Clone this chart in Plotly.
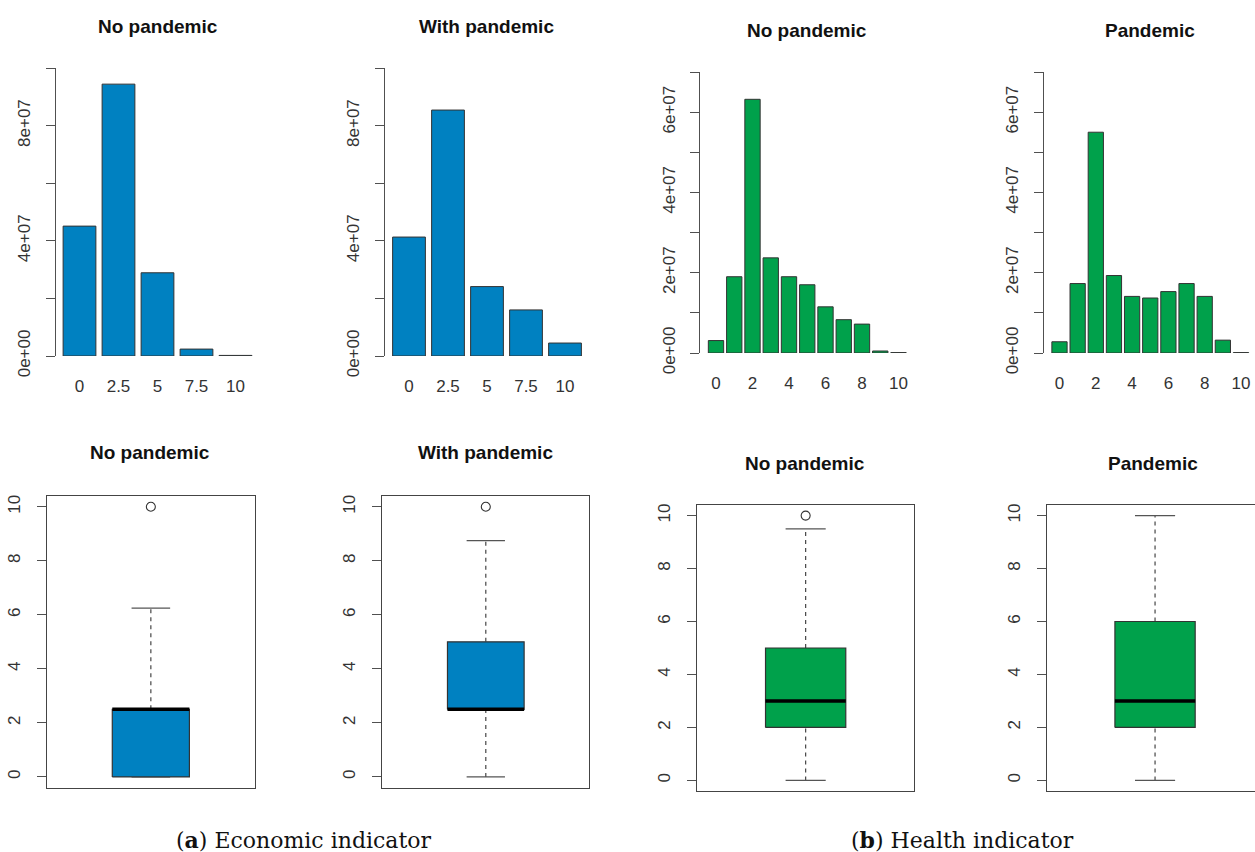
import plotly.graph_objects as go

W, H = 1255, 852          # target picture size used for placing things
FIG_H = 874               # layout height (compensates the vertical squeeze seen in the capture)

# ---------------- data ----------------
econ_levels = [0, 2.5, 5, 7.5, 10]
econ_tick_labels = ["0", "2.5", "5", "7.5", "10"]
econ_no_pandemic = [4.51e7, 9.44e7, 2.89e7, 0.24e7, 0.02e7]
econ_with_pandemic = [4.13e7, 8.54e7, 2.41e7, 1.60e7, 0.45e7]

health_levels = [0, 1, 2, 3, 4, 5, 6, 7, 8, 9, 10]
health_tick_vals = [0, 2, 4, 6, 8, 10]
health_no_pandemic = [0.31e7, 1.90e7, 6.32e7, 2.37e7, 1.90e7, 1.70e7, 1.15e7, 0.83e7, 0.72e7, 0.05e7, 0.01e7]
health_pandemic = [0.28e7, 1.73e7, 5.50e7, 1.93e7, 1.41e7, 1.37e7, 1.53e7, 1.73e7, 1.41e7, 0.32e7, 0.01e7]

# box stats: lower whisker, Q1, median, Q3, upper whisker
econ_no_box = [0, 0, 2.5, 2.5, 6.25]
econ_no_out = [10]
econ_with_box = [0, 2.5, 2.5, 5, 8.75]
econ_with_out = [10]
health_no_box = [0, 2, 3, 5, 9.5]
health_no_out = [10]
health_pan_box = [0, 2, 3, 6, 10]
health_pan_out = []

titles_top = ["No pandemic", "With pandemic", "No pandemic", "Pandemic"]
titles_bottom = ["No pandemic", "With pandemic", "No pandemic", "Pandemic"]

BLUE = "#0081C1"
GREEN = "#00A14B"
EDGE = "#333333"
AXC = "#505050"
TICKFONT = dict(family="Liberation Sans, Arial, sans-serif", size=17, color="#333333")


def xd(l, r):
    return [max(0.0, l / W), min(1.0, r / W)]


def yd(top, bottom):
    return [1 - bottom / H, 1 - top / H]


fig = go.Figure()
layout = {}


def ax_name(i, kind):
    return f"{kind}axis" if i == 1 else f"{kind}axis{i}"


def ref(i, kind):
    return kind if i == 1 else f"{kind}{i}"


# ---------------- bar panels ----------------
bar_panels = [
    (1, econ_levels, econ_no_pandemic, BLUE, 79.5, 39.0, 2.5, 67, 355, 1e8, 2e7, [0, 4e7, 8e7], econ_levels, econ_tick_labels),
    (2, econ_levels, econ_with_pandemic, BLUE, 409.0, 39.0, 2.5, 67, 355, 1e8, 2e7, [0, 4e7, 8e7], econ_levels, econ_tick_labels),
    (3, health_levels, health_no_pandemic, GREEN, 716.0, 18.25, 1.0, 71, 352, 7e7, 1e7, [0, 2e7, 4e7, 6e7], health_tick_vals, [str(v) for v in health_tick_vals]),
    (4, health_levels, health_pandemic, GREEN, 1059.5, 18.15, 1.0, 71, 352, 7e7, 1e7, [0, 2e7, 4e7, 6e7], health_tick_vals, [str(v) for v in health_tick_vals]),
]

for (i, lv, vals, col, c0, step, su, ytop, ybot, ymax, ystep, lab, xtv, xtt) in bar_panels:
    left_px = c0 - 0.61 * step if su != 1.0 else c0 - 0.85 * step
    right_px = c0 + (4.61 if su != 1.0 else 10.85) * step
    right_px = min(right_px, W)
    lo_units = (left_px - c0) / step * su
    hi_units = (right_px - c0) / step * su
    fig.add_trace(go.Bar(
        x=lv, y=vals, width=0.84 * su,
        marker=dict(color=col, line=dict(color=EDGE, width=1)),
        xaxis=ref(i, "x"), yaxis=ref(i, "y"), showlegend=False, hoverinfo="skip",
    ))
    n = int(round(ymax / ystep))
    tv = [k * ystep for k in range(n + 1)]
    tt = [("0e+00" if v == 0 else "%de+07" % int(round(v / 1e7))) if v in lab else "" for v in tv]
    layout[ax_name(i, "x")] = dict(
        domain=xd(left_px, right_px), range=[lo_units, hi_units], anchor=ref(i, "y"),
        showline=False, showgrid=False, zeroline=False, ticks="",
        tickvals=xtv, ticktext=xtt, tickfont=TICKFONT, ticklabelstandoff=18,
        fixedrange=True,
    )
    layout[ax_name(i, "y")] = dict(
        domain=yd(ytop, ybot), range=[0, ymax], anchor=ref(i, "x"),
        showline=True, linecolor=AXC, linewidth=1, showgrid=False, zeroline=False,
        ticks="outside", ticklen=9, tickcolor=AXC, tickwidth=1,
        tickvals=tv, ticktext=tt, tickangle=-90, tickfont=TICKFONT, ticklabelstandoff=9,
        fixedrange=True,
    )

# ---------------- box panels ----------------
box_panels = [
    (5, econ_no_box, econ_no_out, BLUE, 46.7, 255.0, 495.0, 786.7, True),
    (6, econ_with_box, econ_with_out, BLUE, 382.3, 589.3, 495.0, 786.7, True),
    (7, health_no_box, health_no_out, GREEN, 697.3, 914.0, 504.0, 790.0, True),
    (8, health_pan_box, health_pan_out, GREEN, 1046.7, 1263.4, 504.0, 790.0, False),
]

HW = 0.2   # box half width
CW = 0.1   # staple half width
for (i, st, outs, col, l, r, t, b, mirror_y) in box_panels:
    lw, q1, med, q3, uw = st
    c = 1.0
    xr = ref(i, "x")
    yr = ref(i, "y")
    fig.add_trace(go.Scatter(x=[c, c, None, c, c], y=[q3, uw, None, lw, q1], mode="lines",
                             line=dict(color="#444444", width=1.2, dash="4px,4px"),
                             xaxis=xr, yaxis=yr, showlegend=False, hoverinfo="skip"))
    fig.add_trace(go.Scatter(x=[c - CW, c + CW, None, c - CW, c + CW], y=[uw, uw, None, lw, lw], mode="lines",
                             line=dict(color="#555555", width=1.2),
                             xaxis=xr, yaxis=yr, showlegend=False, hoverinfo="skip"))
    fig.add_trace(go.Scatter(x=[c - HW, c + HW, c + HW, c - HW, c - HW], y=[q1, q1, q3, q3, q1],
                             mode="lines", fill="toself", fillcolor=col,
                             line=dict(color=EDGE, width=1.2),
                             xaxis=xr, yaxis=yr, showlegend=False, hoverinfo="skip"))
    fig.add_trace(go.Scatter(x=[c - HW, c + HW], y=[med, med], mode="lines",
                             line=dict(color="#000000", width=3.5),
                             xaxis=xr, yaxis=yr, showlegend=False, hoverinfo="skip"))
    if outs:
        fig.add_trace(go.Scatter(x=[c] * len(outs), y=outs, mode="markers",
                                 marker=dict(symbol="circle-open", size=9, color="#333333", line=dict(width=1.1)),
                                 xaxis=xr, yaxis=yr, showlegend=False, hoverinfo="skip"))
    px_per_unit = (r - l) / 1.08
    r_eff = min(r, W)
    hi = 0.46 + (r_eff - l) / px_per_unit
    layout[ax_name(i, "x")] = dict(
        domain=xd(l, r_eff), range=[0.46, hi], anchor=yr,
        showline=True, mirror=True, linecolor="#444444", linewidth=1.3,
        showgrid=False, zeroline=False, ticks="", showticklabels=False, fixedrange=True,
    )
    layout[ax_name(i, "y")] = dict(
        domain=yd(t, b), range=[-0.4, 10.4], anchor=xr,
        showline=True, mirror=mirror_y, linecolor="#444444", linewidth=1.3,
        showgrid=False, zeroline=False, ticks="outside", ticklen=9, tickcolor=AXC, tickwidth=1,
        tickvals=[0, 2, 4, 6, 8, 10], tickangle=-90, tickfont=TICKFONT, ticklabelstandoff=10,
        fixedrange=True,
    )

# ---------------- titles & captions ----------------
ann = []
title_pos = [(158, 25), (487, 25), (807, 30), (1150, 30), (150, 451), (485, 451), (805, 462), (1153, 462)]
for txt, (px, py) in zip(titles_top + titles_bottom, title_pos):
    ann.append(dict(text=f"<b>{txt}</b>", x=px / W, y=1 - py / H, xref="paper", yref="paper",
                    xanchor="center", yanchor="middle", showarrow=False,
                    font=dict(family="Liberation Sans, Arial, sans-serif", size=19, color="#111111")))

captions = [("(<b>a</b>) Economic indicator", 304, 839), ("(<b>b</b>) Health indicator", 962, 839)]
for txt, px, py in captions:
    ann.append(dict(text=txt, x=px / W, y=1 - py / H, xref="paper", yref="paper",
                    xanchor="center", yanchor="middle", showarrow=False,
                    font=dict(family="DejaVu Serif, serif", size=22, color="#111111")))

fig.update_layout(
    width=W, height=FIG_H, autosize=False, margin=dict(l=0, r=0, t=0, b=0, pad=0),
    paper_bgcolor="white", plot_bgcolor="white",
    showlegend=False, barmode="overlay", annotations=ann,
    **layout,
)

fig.write_html("out.html", config={"displayModeBar": False, "responsive": False})
